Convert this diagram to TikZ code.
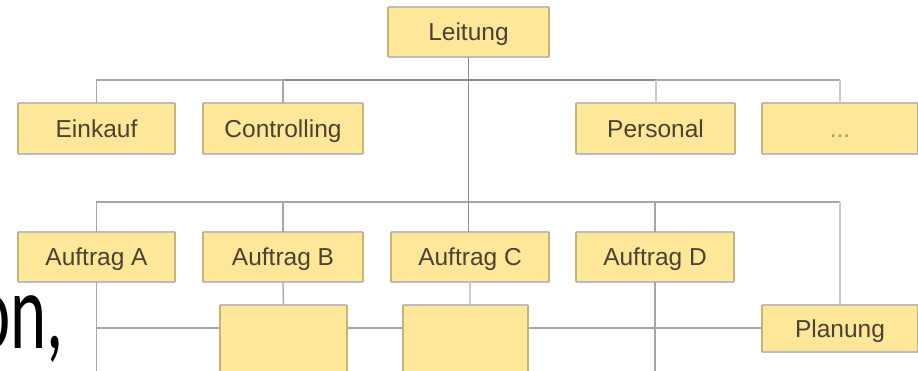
\documentclass[tikz,border=0pt]{standalone}
\usepackage{fontspec}
\setmainfont{Liberation Sans}
\newfontfamily\slidefont{Carlito}
\definecolor{boxfill}{HTML}{FFE799}
\definecolor{boxtext}{HTML}{4A4232}
\definecolor{edgegray}{HTML}{BDBDBD}
\definecolor{edgetan}{HTML}{C6B27A}
\definecolor{conncol}{HTML}{A6A6A6}
\definecolor{trunkcol}{HTML}{8C8C8C}
\definecolor{lightcol}{HTML}{CACACA}
\definecolor{dotcol}{HTML}{A89868}
\tikzset{
  obox/.style={fill=boxfill, draw=none, inner sep=0pt, text=boxtext,
    text height=17.5pt, text depth=0pt,
    font=\fontsize{24.5}{28}\selectfont},
  conn/.style={draw=conncol, line width=1.3pt},
  trunk/.style={draw=trunkcol, line width=1.5pt},
  lightconn/.style={draw=lightcol, line width=2pt},
  topbot/.style={draw=edgegray, line width=2pt},
  sides/.style={draw=edgetan, line width=2pt},
}
\begin{document}
\begin{tikzpicture}[x=1pt,y=-1pt]
\useasboundingbox (0,0) rectangle (918,371);
\clip (0,0) rectangle (918,371);
\fill[white] (0,0) rectangle (918,371);

% bus coordinates
\coordinate (bus1) at (0,80);
\coordinate (bus2) at (0,202);
\coordinate (h3) at (0,328);
\coordinate (bottom) at (0,380);

% boxes
\node[obox, minimum width=161pt, minimum height=50pt] (lei) at (468.5,32) {Leitung};
\node[obox, minimum width=157pt, minimum height=51pt] (ein) at (96.5,128.5) {Einkauf};
\node[obox, minimum width=160pt, minimum height=51pt] (con) at (283,128.5) {Controlling};
\node[obox, minimum width=159pt, minimum height=51pt] (per) at (655.5,128.5) {Personal};
\node[obox, minimum width=156pt, minimum height=51pt, text=dotcol] (dots) at (840,128.5) {...};
\node[obox, minimum width=157pt, minimum height=50pt] (aufA) at (96.5,257) {Auftrag A};
\node[obox, minimum width=160pt, minimum height=50pt] (aufB) at (283,257) {Auftrag B};
\node[obox, minimum width=158pt, minimum height=50pt] (aufC) at (470,257) {Auftrag C};
\node[obox, minimum width=158pt, minimum height=50pt] (aufD) at (655,257) {Auftrag D};
\node[obox, minimum width=127pt, minimum height=95pt] (bB) at (283.5,352.5) {};
\node[obox, minimum width=125pt, minimum height=95pt] (bC) at (465.5,352.5) {};
\node[obox, minimum width=156pt, minimum height=47pt] (plan) at (840,328.5) {Planung};

% box borders
\foreach \n in {lei,ein,con,per,dots,aufA,aufB,aufC,aufD,bB,bC,plan}{
  \draw[topbot] (\n.north west) -- (\n.north east);
  \draw[topbot] (\n.south west) -- (\n.south east);
  \draw[sides] (\n.north west) -- (\n.south west);
  \draw[sides] (\n.north east) -- (\n.south east);
}

% first bus
\draw[conn] (ein.north) |- (bus1 -| dots.north);
\draw[trunk] (con.north |- bus1) -- (per.north |- bus1);
\draw[conn] (con.north) -- (con.north |- bus1);
\draw[lightconn] (per.north) -- (per.north |- bus1);
\draw[lightconn] (dots.north) -- (dots.north |- bus1);

% second bus
\draw[conn] (aufA.north) |- (bus2 -| plan.north);
\draw[conn] (aufB.north) -- (aufB.north |- bus2);
\draw[conn] (aufD.north) -- (aufD.north |- bus2);
\draw[lightconn] (plan.north) -- (plan.north |- bus2);

% trunk
\draw[trunk] (lei.south) -- (lei.south |- aufC.north);

% lower connections
\draw[conn] (aufA.south) -- (aufA.south |- bottom);
\draw[conn] (aufA.south |- h3) -- (bB.west |- h3);
\draw[conn] (bB.east |- h3) -- (bC.west |- h3);
\draw[conn] (bC.east |- h3) -- (plan.west |- h3);
\draw[conn] (aufB.south) -- (bB.north);
\draw[lightconn] (aufC.south) -- (aufC.south |- bC.north);
\draw[conn] (aufD.south) -- (aufD.south |- bottom);

% slide text fragment
\node[anchor=base west, inner sep=0pt, text=black, xscale=0.63,
  font=\slidefont\fontsize{109}{120}\selectfont] (frag) at (-25.7,348) {on,};
\end{tikzpicture}
\end{document}
